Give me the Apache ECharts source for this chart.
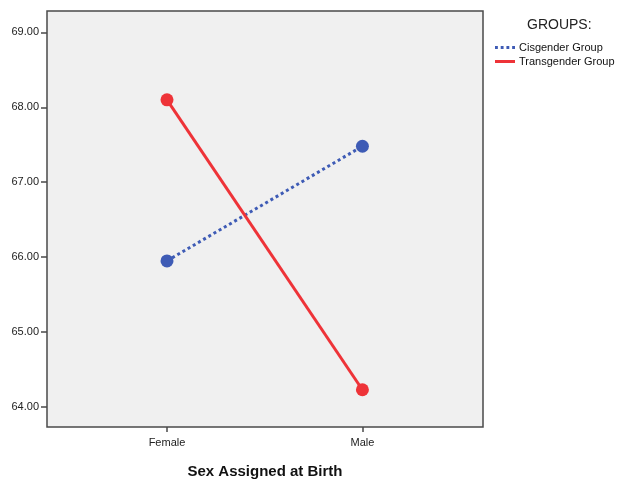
<!DOCTYPE html>
<html><head><meta charset="utf-8">
<script src="https://cdn.jsdelivr.net/npm/echarts@6/dist/echarts.min.js"></script>
<style>html,body{margin:0;padding:0;background:#fff}#c{width:624px;height:484px}</style>
</head><body><div id="c"></div>
<script>
const categories = ['Female', 'Male'];
const seriesNames = ['Cisgender Group', 'Transgender Group'];
const cisgender = [65.95, 67.48];
const transgender = [68.10, 64.23];
const yTicks = [64, 65, 66, 67, 68, 69];

const font = 'Arial, "Liberation Sans", sans-serif';
const chart = echarts.init(document.getElementById('c'));
const toXY = arr => arr.map((v, i) => [i, v]);
chart.setOption({
  animation: false,
  backgroundColor: '#fff',
  title: { text: 'GROUPS:', left: 527, top: 18, padding: 0, textStyle: { fontFamily: font, fontSize: 14, fontWeight: 'normal', color: '#222' } },
  legend: {
    orient: 'vertical', left: 495, top: 42, padding: 0, itemGap: 3, itemWidth: 20, itemHeight: 3,
    textStyle: { fontFamily: font, fontSize: 11, color: '#111', padding: [0, 0, 0, -1] },
    data: [
      { name: seriesNames[0], icon: 'path://M0,0h3v3h-3z M6,0h3v3h-3z M12,0h3v3h-3z M18,0h3v3h-3z' },
      { name: seriesNames[1], icon: 'rect' }
    ]
  },
  grid: { left: 47, top: 11, width: 436, height: 422, show: true, backgroundColor: '#f0f0f0', borderColor: '#4a4a4a', borderWidth: 1.5, containLabel: false },
  xAxis: {
    type: 'value', min: -0.614, max: 1.617, position: 'bottom',
    name: 'Sex Assigned at Birth', nameLocation: 'middle', nameGap: 37,
    nameTextStyle: { fontFamily: font, fontSize: 15, fontWeight: 'bold', color: '#111' },
    axisLine: { show: false, onZero: false }, splitLine: { show: false },
    axisTick: { show: true, length: 5, customValues: [0, 1], lineStyle: { color: '#4a4a4a', width: 1.5 } },
    axisLabel: { customValues: [0, 1], margin: 10, fontFamily: font, fontSize: 11, color: '#222', formatter: v => categories[Math.round(v)] }
  },
  yAxis: {
    type: 'value', min: 63.733, max: 69.285, position: 'left',
    axisLine: { show: false, onZero: false }, splitLine: { show: false },
    axisTick: { show: true, length: 6, customValues: yTicks, lineStyle: { color: '#4a4a4a', width: 1.5 } },
    axisLabel: { customValues: yTicks, margin: 8, fontFamily: font, fontSize: 11, color: '#222', formatter: v => v.toFixed(2) }
  },
  series: [
    { name: seriesNames[0], type: 'line', data: toXY(cisgender), symbol: 'circle', symbolSize: 13,
      itemStyle: { color: '#3e5bb5' }, lineStyle: { color: '#3e5bb5', width: 3, type: [3, 3] }, z: 2 },
    { name: seriesNames[1], type: 'line', data: toXY(transgender), symbol: 'circle', symbolSize: 13,
      itemStyle: { color: '#ee3338' }, lineStyle: { color: '#ee3338', width: 3 }, z: 3 }
  ]
});
</script></body></html>
